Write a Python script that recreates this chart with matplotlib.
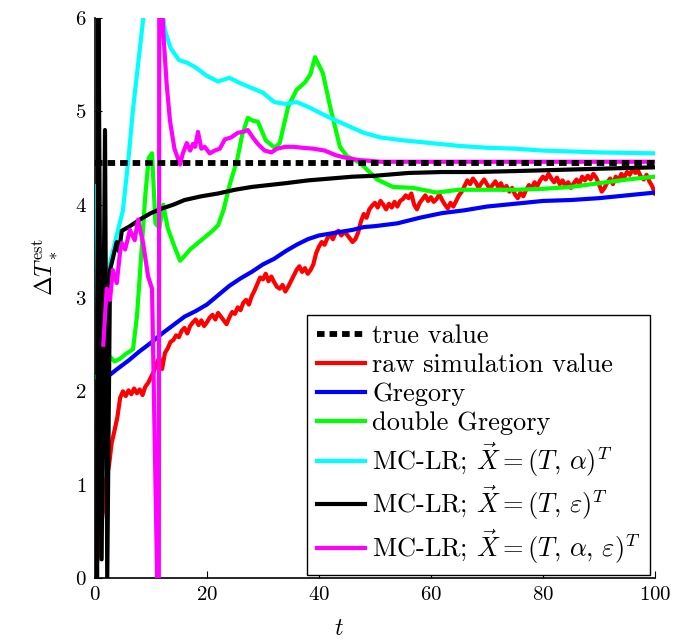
import numpy as np
from matplotlib import pyplot as plt

plt.rcParams['font.family'] = 'serif'
plt.rcParams['font.serif'] = ['cmr10', 'DejaVu Serif']
plt.rcParams['mathtext.fontset'] = 'cm'
plt.rcParams['axes.formatter.use_mathtext'] = True

true_value = 4.45

# raw simulation value, sampled every 0.5 time units from 0 to 100
raw_y = [0.03, 0.22, 0.5, 0.75, 1.05, 1.2, 1.45, 1.58, 1.72, 1.93,
         2.0, 1.95, 2.01, 1.97, 2.03, 1.98, 2.02, 1.96, 2.05, 2.09,
         2.15, 2.21, 2.3, 2.36, 2.24, 2.41, 2.46, 2.53, 2.55, 2.6,
         2.58, 2.65, 2.68, 2.62, 2.7, 2.74, 2.77, 2.71, 2.76, 2.7,
         2.74, 2.79, 2.82, 2.77, 2.84, 2.8, 2.76, 2.72, 2.79, 2.85,
         2.83, 2.9, 2.87, 2.95, 2.98, 2.93, 3.02, 3.08, 3.15, 3.22,
         3.2, 3.26, 3.18, 3.23, 3.17, 3.12, 3.1, 3.14, 3.07, 3.12,
         3.18, 3.24, 3.3, 3.34, 3.28, 3.32, 3.26, 3.3, 3.36, 3.48,
         3.55, 3.6, 3.57, 3.64, 3.68, 3.63, 3.7, 3.72, 3.67, 3.71,
         3.68, 3.64, 3.6, 3.63, 3.7, 3.82, 3.9, 3.86, 3.95, 3.99,
         4.02, 3.97, 4.04, 4.0, 3.95, 4.01, 3.97, 4.03, 3.98, 4.04,
         4.06, 4.1, 4.07, 4.12, 4.0, 3.95, 4.02, 4.06, 4.1, 4.04,
         4.08, 4.03, 4.06, 4.11, 4.05, 4.0, 3.96, 4.02, 3.98, 4.04,
         4.1, 4.14, 4.2, 4.26, 4.22, 4.28, 4.24, 4.18, 4.23, 4.27,
         4.22, 4.17, 4.21, 4.25, 4.19, 4.23, 4.16, 4.2, 4.14, 4.18,
         4.11, 4.07, 4.13, 4.09, 4.16, 4.21, 4.18, 4.24, 4.2, 4.26,
         4.3, 4.27, 4.33, 4.28, 4.24, 4.29, 4.22, 4.26, 4.2, 4.24,
         4.18, 4.23, 4.27, 4.22, 4.3, 4.26, 4.31, 4.27, 4.33, 4.29,
         4.22, 4.14, 4.18, 4.24, 4.28, 4.22, 4.3, 4.26, 4.33, 4.29,
         4.35, 4.32, 4.38, 4.34, 4.36, 4.3, 4.27, 4.32, 4.25, 4.2,
         4.12]
raw_t = np.linspace(0, 100, len(raw_y))

greg_t = [2.1, 4, 6, 8, 10, 12, 14, 16, 18, 20, 22, 24, 26, 28, 30, 32, 34, 36,
          38, 40, 42, 44, 46, 48, 50, 54, 58, 62, 66, 70, 75, 80, 85, 90, 95, 100]
greg_y = [2.15, 2.24, 2.33, 2.43, 2.52, 2.62, 2.71, 2.8, 2.86, 2.93, 3.03, 3.13,
          3.21, 3.28, 3.36, 3.42, 3.5, 3.57, 3.63, 3.67, 3.69, 3.71, 3.73, 3.76,
          3.77, 3.8, 3.86, 3.91, 3.94, 3.98, 4.01, 4.04, 4.05, 4.07, 4.1, 4.13]

dgreg_t = [0, 1, 2, 2.7, 3.5, 4.5, 5.5, 6.8, 7.5, 8.2, 9.0, 9.6, 10.2, 10.8, 11.5,
           12.2, 13.0, 14.2, 15.2, 16, 17, 19, 21, 22, 23, 24, 25.4, 26.3, 27.3,
           28.2, 29.1, 30.5, 32.1, 33, 34.5, 36, 37.5, 38.5, 39.3, 40.7, 42,
           43.75, 45, 47.3, 50.4, 53.2, 56.8, 61, 65, 70, 75, 80, 85, 90, 95, 100]
dgreg_y = [2.15, 2.18, 2.25, 2.37, 2.32, 2.35, 2.4, 2.45, 2.8, 3.4, 4.1, 4.5,
           4.55, 3.8, 3.75, 4.0, 3.75, 3.55, 3.4, 3.45, 3.52, 3.62, 3.72, 3.78,
           3.95, 4.2, 4.48, 4.75, 4.93, 4.9, 4.89, 4.69, 4.61, 4.66, 5.05, 5.23,
           5.31, 5.4, 5.58, 5.41, 5.05, 4.62, 4.52, 4.45, 4.27, 4.19, 4.18, 4.13,
           4.16, 4.16, 4.16, 4.17, 4.19, 4.23, 4.27, 4.3]

lr_a_t = [0.3, 1.0, 2.0, 2.7, 4, 5, 6, 6.8, 7.7, 8.6, 9.5, 10.5, 11.5, 12.5, 13.5,
          15, 16.5, 18, 20, 22, 24, 26, 28, 30, 32, 34, 36, 38, 40, 42, 45, 48, 51,
          55, 60, 65, 70, 75, 80, 85, 90, 95, 100]
lr_a_y = [4.2, 0.7, 2.3, 3.38, 3.7, 3.94, 4.5, 5.02, 5.5, 5.98, 6.4, 6.6, 6.3,
          5.87, 5.68, 5.55, 5.52, 5.47, 5.38, 5.32, 5.36, 5.3, 5.25, 5.2, 5.1,
          5.08, 5.1, 5.05, 4.99, 4.93, 4.85, 4.77, 4.72, 4.69, 4.66, 4.63, 4.61,
          4.6, 4.58, 4.57, 4.56, 4.555, 4.55]

lr_e_t = [0.4, 0.6, 1.2, 1.8, 2.2, 2.7, 3.3, 3.9, 4.3, 4.8, 6, 7, 8, 10, 12, 14,
          16, 19, 22, 25, 28, 31, 34, 38, 42, 46, 50, 56, 62, 68, 75, 81, 87, 93, 100]
lr_e_y = [0.0, 6.5, 0.2, 4.8, 0.0, 3.3, 3.45, 3.6, 3.5, 3.72, 3.76, 3.8, 3.84,
          3.91, 3.96, 4.0, 4.05, 4.09, 4.12, 4.16, 4.19, 4.21, 4.23, 4.26, 4.28,
          4.3, 4.31, 4.34, 4.35, 4.35, 4.36, 4.37, 4.38, 4.39, 4.4]

lr_ae_t = [1.5, 2.1, 2.7, 3.2, 3.9, 4.5, 4.8, 5.4, 6.25, 7.1, 7.7, 8.6, 9.5, 10.2,
           11.4, 11.5, 12.2, 12.8, 13.4, 14.2, 15.2, 15.7, 16.4, 17, 17.5, 17.9,
           18.4, 19, 19.6, 20.5, 21.4, 22.3, 23.2, 24.3, 25.5, 26.4, 27.3, 28.2,
           29.1, 30.3, 31.5, 32.5, 34, 35.5, 37, 39, 41, 43, 45, 47, 49, 51, 55,
           60, 70, 80, 90, 100]
lr_ae_y = [2.5, 3.1, 2.98, 3.3, 3.16, 3.5, 3.59, 3.52, 3.73, 3.62, 3.84, 3.59,
           3.23, 3.1, -1.0, 7.0, 5.85, 5.3, 4.9, 4.6, 4.43, 4.55, 4.66, 4.58,
           4.65, 4.62, 4.78, 4.6, 4.62, 4.55, 4.58, 4.6, 4.7, 4.72, 4.77, 4.78,
           4.8, 4.72, 4.65, 4.58, 4.56, 4.6, 4.62, 4.62, 4.61, 4.6, 4.58, 4.53,
           4.5, 4.48, 4.47, 4.46, 4.46, 4.46, 4.46, 4.46, 4.46, 4.46]

fig = plt.figure(figsize=(6.78, 6.44), dpi=100)
ax = fig.add_axes([0.140, 0.1025, 0.826, 0.8695])

lw = 3.0
ax.plot(raw_t, raw_y, color='#ff0000', lw=lw, label='raw simulation value', zorder=2)
ax.plot(greg_t, greg_y, color='#0000ff', lw=lw, label='Gregory', zorder=3)
ax.plot(dgreg_t, dgreg_y, color='#00ff00', lw=lw, label='double Gregory', zorder=3)
ax.plot(lr_a_t, lr_a_y, color='#00ffff', lw=lw, label=r'MC-LR; $\vec{X}=(T,\,\alpha)^T$', zorder=3)
ax.plot(lr_e_t, lr_e_y, color='black', lw=lw, label=r'MC-LR; $\vec{X}=(T,\,\varepsilon)^T$', zorder=3)
ax.plot(lr_ae_t, lr_ae_y, color='#ff00ff', lw=lw,
        label=r'MC-LR; $\vec{X}=(T,\,\alpha,\,\varepsilon)^T$', zorder=3)
ax.plot([0, 100], [true_value, true_value], color='black', lw=4.2,
        dashes=(1.3, 0.85), label='true value', zorder=4)

ax.set_xlim(0, 100)
ax.set_ylim(0, 6)
ax.set_xticks([0, 20, 40, 60, 80, 100])
ax.set_yticks([0, 1, 2, 3, 4, 5, 6])
ax.tick_params(direction='in', labelsize=15, length=5, width=0.8, pad=6)
ax.spines['top'].set_visible(False)
ax.spines['right'].set_visible(False)
ax.spines['left'].set_linewidth(1.2)
ax.spines['bottom'].set_linewidth(1.2)

ax.set_xlabel(r'$t$', fontsize=17)
ax.xaxis.set_label_coords(0.436, -0.072)
ax.set_ylabel(r'$\Delta T_*^{\mathrm{est}}$', fontsize=17)
ax.yaxis.set_label_coords(-0.062, 0.555)

handles, labels = ax.get_legend_handles_labels()
order = [6, 0, 1, 2, 3, 4, 5]
leg = ax.legend([handles[i] for i in order], [labels[i] for i in order],
                loc='lower right', bbox_to_anchor=(0.991, 0.005), fontsize=19,
                fancybox=False, framealpha=1, edgecolor='black',
                handlelength=1.85, handletextpad=0.25, labelspacing=0.2,
                borderpad=0.35, borderaxespad=0)
leg.get_frame().set_linewidth(1.0)

fig.savefig('out.png', dpi=100)
